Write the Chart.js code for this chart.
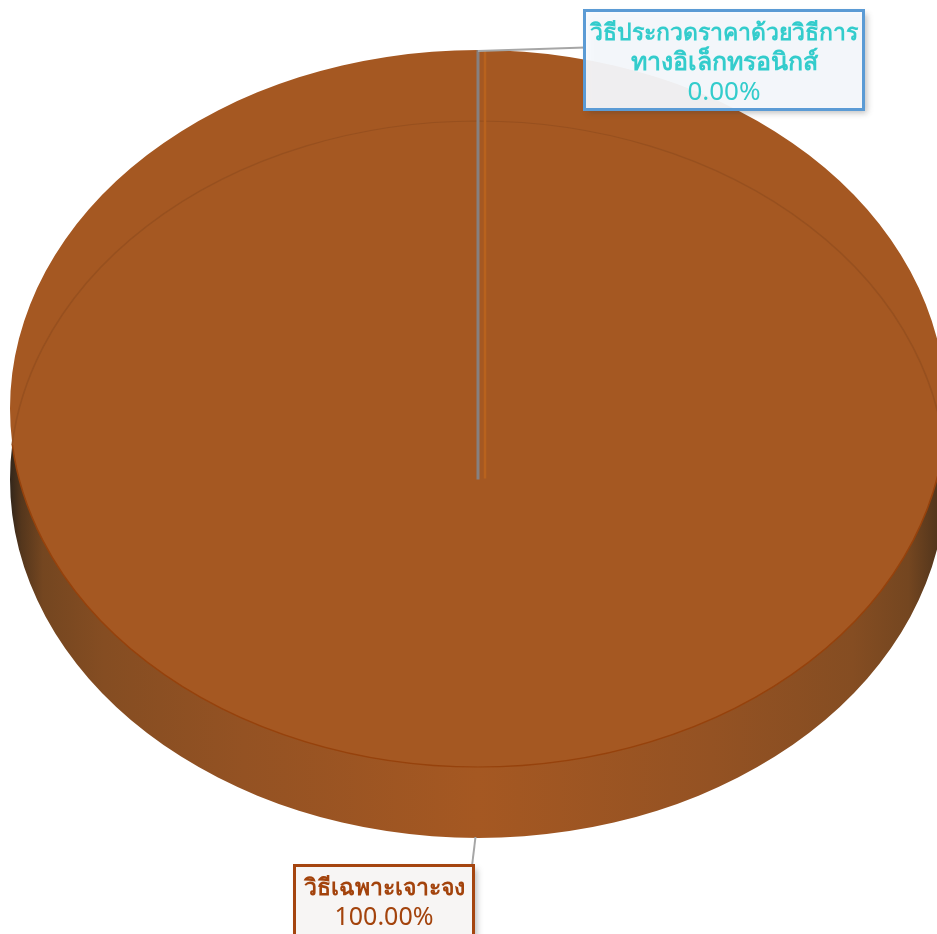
<!DOCTYPE html>
<html>
<head>
<meta charset="utf-8">
<script src="https://cdn.jsdelivr.net/npm/chart.js@4/dist/chart.umd.min.js"></script>
<style>
html,body{margin:0;padding:0;background:#fff;overflow:hidden}
canvas{display:block}
</style>
</head>
<body>
<canvas id="c" width="937" height="934"></canvas>
<script>
const categoryLines = [["วิธีประกวดราคาด้วยวิธีการ", "ทางอิเล็กทรอนิกส์"], ["วิธีเฉพาะเจาะจง"]];
const categories = categoryLines.map(l => l.join(" "));
const percentValues = [0, 100];
const sliceColors = ["#33CCCC", "#A55822"];
const labelColors = ["#33CCCC", "#A3430C"];
const labelBorders = ["#5B9BD5", "#A5450F"];
const labelFills = ["rgba(248,251,255,0.93)", "#F7F5F4"];

const FONT = '"Noto Sans", "Open Sans", sans-serif';
const RADIUS = 468, RY = 358.5, TOP_Y = 408.5, BOTTOM_Y = 479.5, SPLIT_Y = 445;

function squash(ctx, el, y) {
  ctx.translate(el.x, y);
  ctx.scale(1, RY / RADIUS);
  ctx.translate(-el.x, -el.y);
}
function drawWith(ctx, el, fill, stroke, width) {
  const saved = el.options;
  el.options = {backgroundColor: fill, borderColor: stroke, borderWidth: width, borderAlign: "center",
    borderJoinStyle: "round", borderRadius: 0, spacing: 0, offset: 0, circular: true,
    borderDash: [], borderDashOffset: 0};
  el.draw(ctx);
  el.options = saved;
}
function labelBox(ctx, i, box, lineYs, sizes, numberSize) {
  ctx.save();
  ctx.shadowColor = "rgba(60,60,60,0.35)";
  ctx.shadowBlur = 6; ctx.shadowOffsetX = 3; ctx.shadowOffsetY = 3;
  ctx.fillStyle = labelFills[i];
  ctx.fillRect(box[0], box[1], box[2], box[3]);
  ctx.restore();
  ctx.strokeStyle = labelBorders[i];
  ctx.lineWidth = 3;
  ctx.strokeRect(box[0], box[1], box[2], box[3]);
  ctx.fillStyle = labelColors[i];
  ctx.textAlign = "center";
  ctx.textBaseline = "alphabetic";
  categoryLines[i].forEach((t, k) => {
    ctx.font = "700 " + sizes[k] + "px " + FONT;
    ctx.fillText(t, box[0] + box[2] / 2, lineYs[k]);
  });
  ctx.font = "400 " + numberSize + "px " + FONT;
  ctx.fillText(percentValues[i].toFixed(2) + "%", box[0] + box[2] / 2, lineYs[categoryLines[i].length]);
}

const pie3d = {
  id: "pie3d",
  beforeDatasetDraw(chart, args) {
    const ctx = chart.ctx;
    const arcs = args.meta.data;
    const g = ctx.createLinearGradient(10, 0, 946, 0);
    [[0, "#33261a"], [0.012, "#54361c"], [0.035, "#744620"], [0.1, "#854d22"], [0.25, "#945223"],
     [0.5, "#A55822"], [0.75, "#945223"], [0.9, "#854d22"], [0.96, "#744620"], [0.99, "#54361c"], [1, "#33261a"]]
      .forEach(s => g.addColorStop(s[0], s[1]));
    ctx.save();
    squash(ctx, arcs[1], BOTTOM_Y);
    arcs.forEach(a => { if (a.circumference > 0) drawWith(ctx, a, g, "transparent", 0); });
    ctx.restore();
    ctx.save();
    squash(ctx, arcs[1], TOP_Y);
  },
  afterDatasetDraw(chart, args) {
    const ctx = chart.ctx;
    ctx.restore();
    const arcs = args.meta.data;
    const big = arcs[1];
    // rim of the top face (front) and the far rim of the base (seen through)
    ctx.save();
    ctx.beginPath(); ctx.rect(0, SPLIT_Y, 937, 934 - SPLIT_Y); ctx.clip();
    squash(ctx, big, TOP_Y);
    drawWith(ctx, big, "rgba(0,0,0,0)", "#96420C", 1.6);
    ctx.restore();
    ctx.save();
    ctx.beginPath(); ctx.rect(0, 0, 937, SPLIT_Y); ctx.clip();
    squash(ctx, big, BOTTOM_Y);
    drawWith(ctx, big, "rgba(0,0,0,0)", "#97501F", 1.6);
    ctx.restore();
    // the zero slice collapses to its two cut faces
    const zero = arcs[0];
    const x = zero.x + RADIUS * Math.cos(zero.startAngle);
    ctx.lineWidth = 2.5;
    ctx.strokeStyle = "#B8621E";
    ctx.beginPath(); ctx.moveTo(x + 7, TOP_Y - RY + 1); ctx.lineTo(x + 7, BOTTOM_Y - 1); ctx.stroke();
    ctx.lineWidth = 3;
    ctx.strokeStyle = "#868080";
    ctx.beginPath(); ctx.moveTo(x, TOP_Y - RY); ctx.lineTo(x, BOTTOM_Y); ctx.stroke();
    // leader lines
    ctx.strokeStyle = "#A6A6A6";
    ctx.lineWidth = 2;
    ctx.beginPath(); ctx.moveTo(x, TOP_Y - RY + 1); ctx.lineTo(585, 47.5); ctx.stroke();
    ctx.beginPath(); ctx.moveTo(475.5, BOTTOM_Y + RY - 1); ctx.lineTo(472, 866); ctx.stroke();
    labelBox(ctx, 0, [584.5, 10.5, 279, 99], [40, 70, 100], [23, 25], 26);
    labelBox(ctx, 1, [294.5, 865.5, 179, 80], [895, 925], [23], 25);
  }
};

new Chart(document.getElementById("c"), {
  type: "pie",
  data: {
    labels: categories,
    datasets: [{data: percentValues, backgroundColor: sliceColors, borderWidth: 0, radius: RADIUS}]
  },
  options: {
    responsive: false,
    animation: false,
    layout: {padding: {left: 19}},
    plugins: {legend: {display: false}, tooltip: {enabled: false}}
  },
  plugins: [pie3d]
});
</script>
</body>
</html>
